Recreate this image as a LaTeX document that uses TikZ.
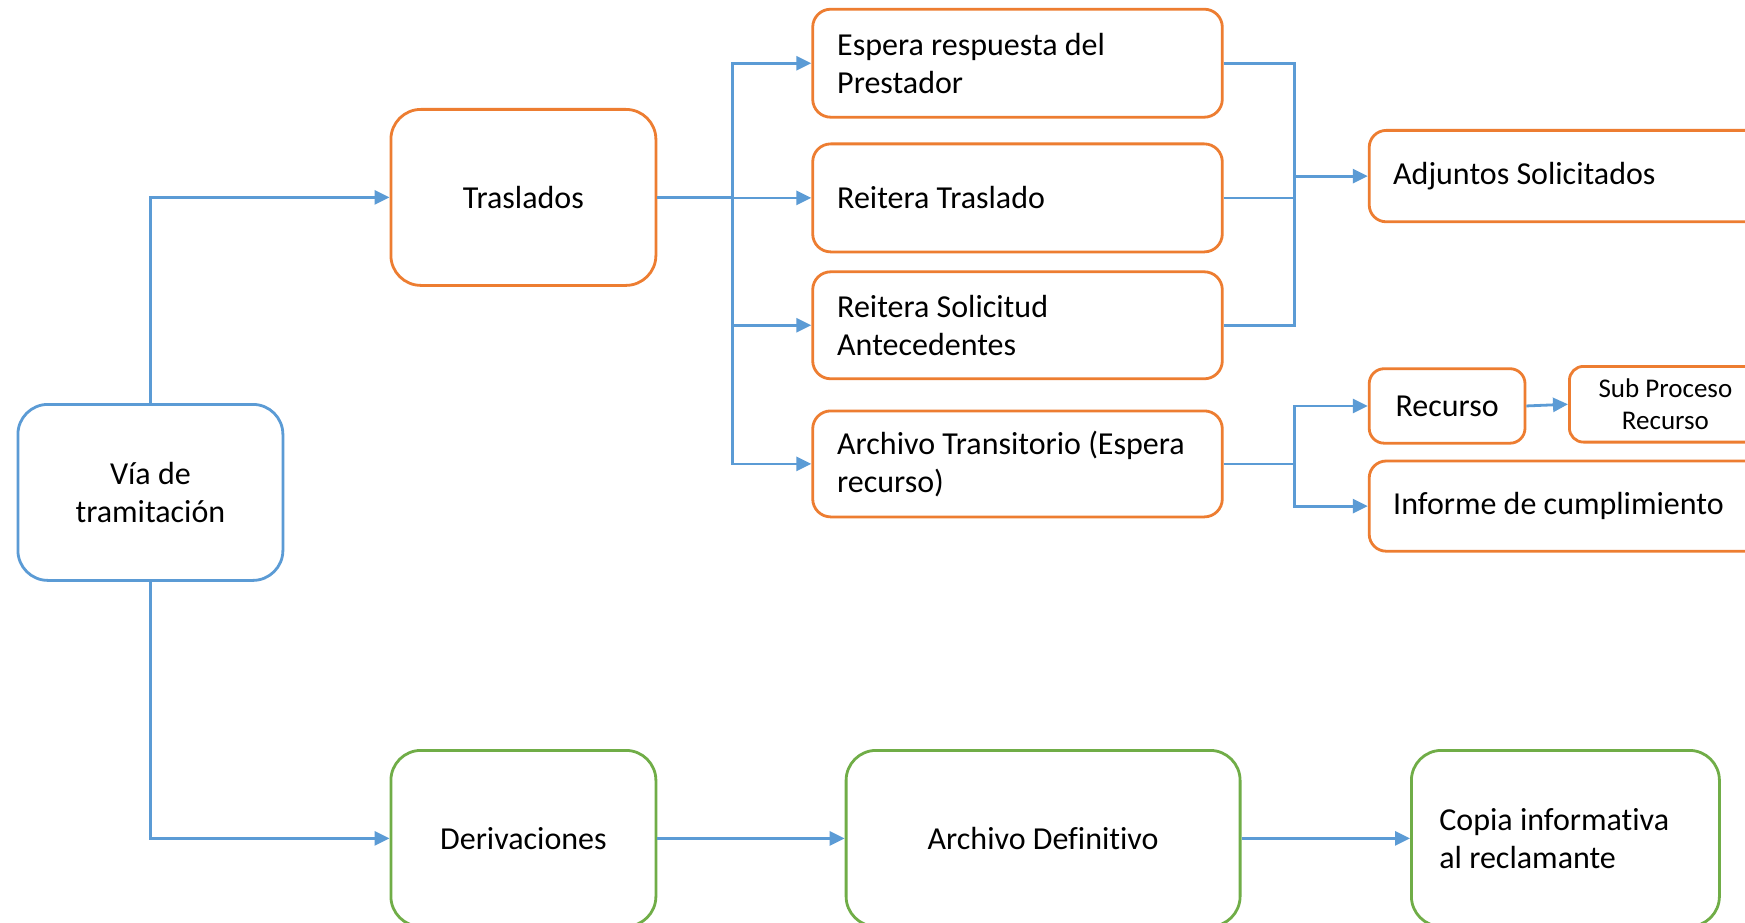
\documentclass[tikz,border=0pt]{standalone}
\usepackage{fontspec}
\setmainfont{Carlito}[Ligatures=NoCommon]
\usetikzlibrary{arrows.meta}
\definecolor{cblue}{HTML}{5B9BD5}
\definecolor{corange}{HTML}{ED7D31}
\definecolor{cgreen}{HTML}{70AD47}
\begin{document}
\begin{tikzpicture}[x=1pt,y=1pt,
  base/.style={draw, line width=2.8pt, fill=white, text=black,
    font=\fontsize{32}{38}\selectfont, anchor=north west, inner sep=0pt},
  obox/.style={base, draw=corange},
  bbox/.style={base, draw=cblue},
  gbox/.style={base, draw=cgreen},
  cbox/.style={align=center, minimum width=#1},
  lbox/.style={align=flush left, inner xsep=24.5pt, text width=#1-49pt},
  conn/.style={draw=cblue, line width=2.8pt},
  arr/.style={conn, -{Triangle[length=15pt,width=14pt]}},
]
\clip (0,0) rectangle (1745,-923);
\fill[white] (0,0) rectangle (1745,-923);

% nodes
\node[bbox, cbox=265pt, minimum height=176pt, rounded corners=30pt] (via) at (16.5,-403) {V\'ia de\\tramitaci\'on};
\node[obox, cbox=265pt, minimum height=176pt, rounded corners=30pt] (tras) at (389.5,-108) {Traslados};
\node[gbox, cbox=265pt, minimum height=176pt, rounded corners=30pt] (der) at (389.5,-749) {Derivaciones};
\node[gbox, cbox=394pt, minimum height=176pt, rounded corners=30pt] (adef) at (844.7,-749) {Archivo Definitivo};
\node[gbox, align=flush left, inner xsep=28pt, text width=252pt, minimum height=176pt, rounded corners=30pt] (cop) at (1410,-749) {Copia informativa\\al reclamante};

\node[obox, lbox=409.6pt, minimum height=108pt, rounded corners=18pt] (esp) at (811.3,-7.8) {Espera respuesta del\\Prestador};
\node[obox, lbox=409.6pt, minimum height=108pt, rounded corners=18pt] (rt) at (811.3,-142.5) {Reitera Traslado};
\node[obox, lbox=409.6pt, minimum height=107pt, rounded corners=18pt] (rs) at (811.3,-270.4) {Reitera Solicitud\\Antecedentes};
\node[obox, lbox=409.6pt, minimum height=106pt, rounded corners=18pt] (at) at (811.3,-409.5) {Archivo Transitorio (Espera\\recurso)};

\node[obox, lbox=450pt, inner xsep=24pt, minimum height=91.4pt, rounded corners=17pt] (adj) at (1367.8,-129) {Adjuntos Solicitados};
\node[obox, cbox=155.8pt, minimum height=74.5pt, rounded corners=15pt] (rec) at (1367.8,-367.3) {Recurso};
\node[obox, cbox=192pt, minimum height=75.7pt, rounded corners=14pt, font=\fontsize{27}{32}\selectfont] (sub) at (1568,-365) {Sub Proceso\\Recurso};
\node[obox, lbox=450pt, inner xsep=24pt, minimum height=90.2pt, rounded corners=17pt] (inf) at (1367.8,-459.6) {Informe de cumplimiento};

% bus coordinates
\coordinate (b1) at (732.3,0);
\coordinate (b2) at (1294.3,0);

% connectors
\draw[arr] (via.north) |- (tras.west);
\draw[arr] (via.south) |- (der.west);

\draw[conn] (tras.east) -- (tras.east -| b1);
\draw[arr] (b1 |- at.west) |- (esp.west);
\draw[arr] (b1 |- esp.west) |- (at.west);
\draw[arr] (b1 |- rt.west) -- (rt.west);
\draw[arr] (b1 |- rs.west) -- (rs.west);

\draw[conn] (esp.east) -| (b2 |- rs.east) -- (rs.east);
\draw[conn] (rt.east) -- (b2 |- rt.east);
\draw[arr] (b2 |- adj.west) -- (adj.west);

\draw[conn] (at.east) -- (b2 |- at.east);
\draw[arr] (b2 |- inf.west) |- (rec.west);
\draw[arr] (b2 |- rec.west) |- (inf.west);
\draw[arr] (rec.east) -- (sub.west);

\draw[arr] (der.east) -- (adef.west);
\draw[arr] (adef.east) -- (cop.west);
\end{tikzpicture}
\end{document}
